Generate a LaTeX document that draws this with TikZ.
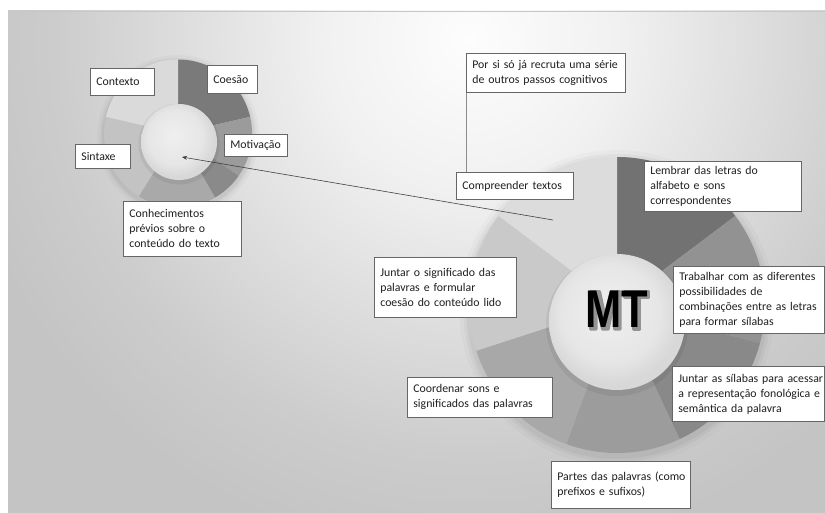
\documentclass[tikz,border=0pt]{standalone}
\usepackage{fontspec}
\usepackage{graphicx}
\setmainfont{Carlito}
\newfontfamily\mtfont{Liberation Sans}
\usetikzlibrary{arrows.meta}
\definecolor{bga}{HTML}{FDFDFD}
\definecolor{bgb}{HTML}{F1F1F1}
\definecolor{bgc}{HTML}{DDDDDD}
\definecolor{bgd}{HTML}{CCCCCC}
\definecolor{bge}{HTML}{C4C4C4}
\definecolor{ina}{HTML}{EFEFEF}
\definecolor{inb}{HTML}{E6E6E6}
\definecolor{inc}{HTML}{D8D8D8}
\definecolor{sa}{HTML}{7A7A7A}
\definecolor{sb}{HTML}{9B9B9B}
\definecolor{sc}{HTML}{8A8A8A}
\definecolor{sd}{HTML}{A9A9A9}
\definecolor{se}{HTML}{C3C3C3}
\definecolor{sf}{HTML}{DADADA}
\definecolor{ba}{HTML}{727272}
\definecolor{bb}{HTML}{929292}
\definecolor{bc}{HTML}{898989}
\definecolor{bd}{HTML}{9C9C9C}
\definecolor{be}{HTML}{A8A8A8}
\definecolor{bf}{HTML}{C9C9C9}
\definecolor{bg}{HTML}{DCDCDC}
\pgfdeclareradialshading{bgshade}{\pgfpoint{0bp}{0bp}}{color(0bp)=(bga); color(7bp)=(bgb); color(14bp)=(bgc); color(20bp)=(bgd); color(25bp)=(bge); color(50bp)=(bge)}
\pgfdeclareradialshading{innershade}{\pgfpoint{-4bp}{5bp}}{color(0bp)=(ina); color(18bp)=(inb); color(25bp)=(inc); color(50bp)=(inc)}
\tikzset{
  box/.style={draw=black!60, line width=0.75pt, fill=white, text=black!88,
    font=\fontsize{11.8pt}{15pt}\selectfont, align=left, inner xsep=6pt, inner ysep=0pt,
    anchor=north west},
  arrowline/.style={draw=black!75, line width=0.6pt, -{Stealth[length=5pt,width=4pt]}},
  callout/.style={draw=black!45, line width=0.7pt},
  mtstyle/.style={font=\mtfont\bfseries\fontsize{53pt}{53pt}\selectfont, text=black, inner sep=0pt},
  mthalo/.style={fill=black!42, draw=black!42, line width=2.6pt, line join=round}
}
\newcommand{\mtword}{\scalebox{0.82}[1]{MT}}
\begin{document}
\begin{tikzpicture}[x=1pt,y=-1pt]
\useasboundingbox (0,0) rectangle (825,513);
\fill[white] (0,0) rectangle (825,513);
\begin{scope}
  \clip (8,11) rectangle (825,513);
  \shade[shading=bgshade] (-50,-480) rectangle (990,560);
\end{scope}
\draw[black!22, line width=0.8pt] (8,11) -- (825,11);

% ---- small donut ----
\foreach \r/\o in {81/0.025,78/0.035,76/0.045}
  \fill[black, opacity=\o] (178,136) circle (\r);
\begin{scope}[shift={(178,133.5)}, y=1pt]
  \foreach \a/\b/\c in {90/13/sa, 13/-35/sb, -35/-60/sc, -60/-122/sd, -122/-193/se, -193/-270/sf}
    \fill[\c] (0,0) -- (\a:74) arc[start angle=\a, end angle=\b, radius=74] -- cycle;
\end{scope}
\fill[black, opacity=0.06] (179,144) circle (40.5);
\shade[shading=innershade] (179,142) circle (38);

% ---- big donut ----
\foreach \r/\o in {158/0.02,154/0.03,151/0.04}
  \fill[black, opacity=\o] (617,308) circle (\r);
\begin{scope}[shift={(617,305)}, y=1pt]
  \foreach \a/\b/\c in {90/37/ba, 37/-15/bb, -15/-65/bc, -65/-110/bd, -110/-162/be, -162/-217/bf, -217/-270/bg}
    \fill[\c] (0,0) -- (\a:148) arc[start angle=\a, end angle=\b, radius=148] -- cycle;
\end{scope}
\fill[black, opacity=0.06] (617,325) circle (71);
\shade[shading=innershade] (617,322) circle (68);

% grey halo behind the letters (drawn as shapes, in font units)
\begin{scope}[shift={(587.2,329.3)}, x=0.02122pt, y=0.02588pt]
  \path[mthalo] (150,0) -- (150,1466) -- (590,1466) -- (853,466) -- (1114,1466) -- (1556,1466)
    -- (1556,0) -- (1284,0) -- (1284,1154) -- (995,0) -- (713,0) -- (426,1154) -- (426,0) -- cycle;
  \path[mthalo] (1744,1466) -- (2920,1466) -- (2920,1218) -- (2480,1218) -- (2480,0)
    -- (2184,0) -- (2184,1218) -- (1744,1218) -- cycle;
\end{scope}
\node[mtstyle] (mt) at (617,309) {\mtword};

% ---- boxes ----
\node[box, text width=52pt, minimum height=27pt] (ctx) at (90,68) {Contexto};
\node[box, text width=38pt, minimum height=28pt] (coe) at (207,65) {Coesão};
\node[box, text width=51pt, minimum height=22pt] (mot) at (224,134) {Motivação};
\node[box, text width=43pt, minimum height=24pt] (sin) at (75,144) {Sintaxe};
\node[box, text width=106pt, minimum height=55pt] (con) at (123,201) {\mbox{Conhecimentos}\\\mbox{prévios sobre o}\\\mbox{conteúdo do texto}};

\node[box, text width=147pt, minimum height=39pt] (por) at (466,53) {\mbox{Por si só já recruta uma série}\\\mbox{de outros passos cognitivos}};
\node[box, text width=105pt, minimum height=27pt] (comp) at (456,172) {\mbox{Compreender textos}};
\node[box, text width=145pt, minimum height=50pt] (lem) at (644,161) {\mbox{Lembrar das letras do}\\\mbox{alfabeto e sons}\\\mbox{correspondentes}};
\node[box, text width=139pt, minimum height=67pt] (tra) at (673,266) {\mbox{Trabalhar com as diferentes}\\\mbox{possibilidades de}\\\mbox{combinações entre as letras}\\\mbox{para formar sílabas}};
\node[box, text width=140pt, minimum height=55pt] (jsi) at (672,366) {\mbox{Juntar as sílabas para acessar}\\\mbox{a representação fonológica e}\\\mbox{semântica da palavra}};
\node[box, text width=130pt, minimum height=60pt] (jsg) at (374,257) {\mbox{Juntar o significado das}\\\mbox{palavras e formular}\\\mbox{coesão do conteúdo lido}};
\node[box, text width=133pt, minimum height=40pt] (coo) at (407,377) {\mbox{Coordenar sons e}\\\mbox{significados das palavras}};
\node[box, text width=127pt, minimum height=47pt] (par) at (551,461) {\mbox{Partes das palavras (como}\\\mbox{prefixos e sufixos)}};

% ---- connectors ----
\draw[callout] ([xshift=0.5pt]por.south west) -- ([xshift=0.5pt]por.south west |- comp.north);
\coordinate (astart) at (553,220);
\coordinate (atip) at (182,157);
\draw[arrowline] (astart) -- (atip);
\end{tikzpicture}
\end{document}
